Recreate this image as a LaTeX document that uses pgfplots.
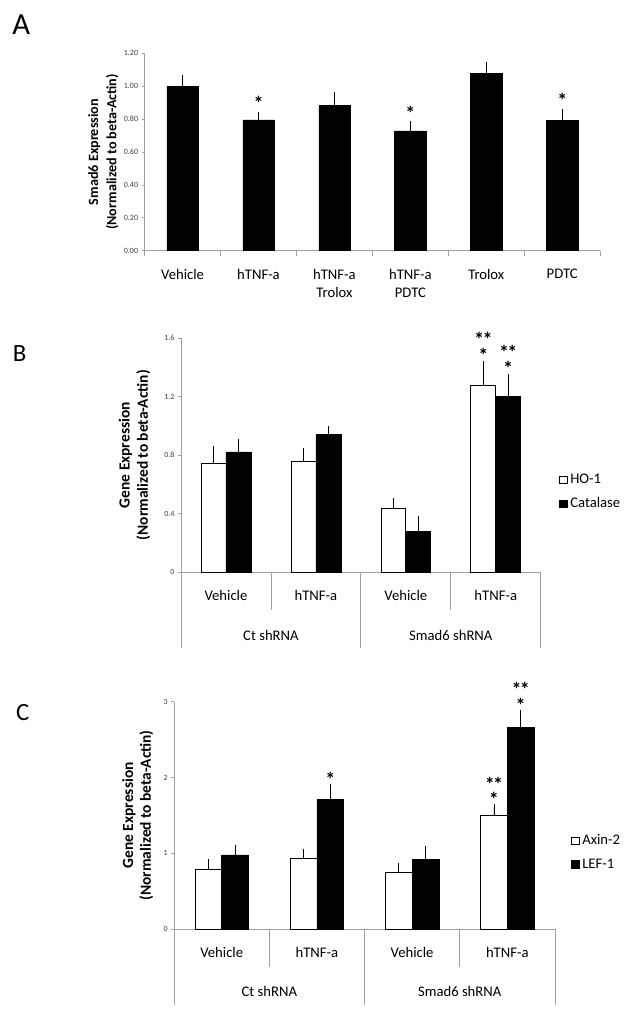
\documentclass[border=0pt]{standalone}
\usepackage{fontspec}
\setmainfont{Carlito}
\newfontfamily\lblfont{Carlito}
\usepackage{pgfplots}
\usepackage{pgfplotstable}
\pgfplotsset{compat=1.18}
\definecolor{axgray}{RGB}{160,160,160}

\pgfplotstableread{
x y e
0 1.000 0.050
1 0.795 0.030
2 0.884 0.060
3 0.728 0.042
4 1.078 0.050
5 0.790 0.056
}\dataA
\pgfplotstableread{
x y e
0 0.744 0.100
1 0.756 0.070
2 0.435 0.050
3 1.274 0.146
}\dataBho
\pgfplotstableread{
x y e
0 0.822 0.066
1 0.942 0.040
2 0.282 0.085
3 1.200 0.131
}\dataBcat
\pgfplotstableread{
x y e
0 0.790 0.100
1 0.933 0.090
2 0.752 0.075
3 1.496 0.110
}\dataCaxin
\pgfplotstableread{
x y e
0 0.977 0.096
1 1.707 0.163
2 0.920 0.136
3 2.662 0.193
}\dataClef

\tikzset{mystar/.style={font=\bfseries\fontsize{15}{10}\selectfont, anchor=base, inner sep=0pt, align=center}}
\newcommand{\dstar}{*\kern-1.2pt*}

\pgfplotsset{
  panel/.style={
    scale only axis,
    axis x line*=bottom,
    axis y line*=left,
    axis line style={axgray, line width=0.6pt, -},
    ytick style={axgray, line width=0.5pt},
    xtick style={draw=none},
    tick align=outside,
    major tick length=2.2pt,
    /pgf/number format/assume math mode=true,
    yticklabel style={font=\fontsize{6}{6}\selectfont, text=black!75, inner sep=1pt, xshift=-1.5pt},
    xticklabel style={font=\fontsize{11}{13.5}\selectfont, align=center, anchor=north, yshift=-8pt},
    ylabel style={font=\lblfont\bfseries\fontsize{10.6}{13.7}\selectfont, align=center, anchor=center},
    clip=false,
    ybar=0pt,
    error bars/y dir=plus,
    error bars/y explicit,
    error bars/error mark options={mark size=2.2pt, line width=0.5pt, black},
    error bars/error bar style={line width=0.5pt, black},
    legend image code/.code={\draw[##1, line width=0.5pt] (0pt,-2.9pt) rectangle (5.8pt,2.9pt);},
    legend cell align=left,
    legend style={draw=none, fill=none, font=\fontsize{11}{12}\selectfont, inner sep=0pt, row sep=5pt, anchor=west},
  },
}

\begin{document}
\begin{tikzpicture}
\path[use as bounding box] (0,0) rectangle (479.25pt,-762.75pt);

% Panel letters
\node[font=\fontsize{23}{23}\selectfont, anchor=center] at (16pt,-18.75pt) {A};
\node[font=\fontsize{18.6}{19}\selectfont, anchor=center] at (14.8pt,-265.5pt) {B};
\node[font=\fontsize{18.6}{19}\selectfont, anchor=center] at (17.1pt,-534.6pt) {C};

% ---------------- Panel A ----------------
\begin{axis}[panel,
  at={(108.45pt,-188.03pt)}, anchor=south west,
  width=341.7pt, height=148.05pt,
  xmin=-0.5, xmax=5.5, ymin=0, ymax=1.2,
  ytick={0,0.2,0.4,0.6,0.8,1.0,1.2},
  yticklabel style={/pgf/number format/fixed, /pgf/number format/fixed zerofill, /pgf/number format/precision=2},
  xtick={0,1,2,3,4,5},
  xticklabels={Vehicle, hTNF-a, {hTNF-a\\Trolox}, {hTNF-a\\PDTC}, Trolox, PDTC},
  bar width=0.411,
  ylabel={Smad6 Expression\\(Normalized to beta-Actin)},
  ylabel style={at={(axis description cs:-0.0907,0.5)}},
]
\addplot[fill=black, draw=black] table[x=x, y=y, y error=e] {\dataA};
\draw[axgray, line width=0.5pt] (axis cs:-0.5,0) -- ++(0pt,-4pt);
\draw[axgray, line width=0.5pt] (axis cs:0.5,0) -- ++(0pt,-4pt);
\draw[axgray, line width=0.5pt] (axis cs:1.5,0) -- ++(0pt,-4pt);
\draw[axgray, line width=0.5pt] (axis cs:2.5,0) -- ++(0pt,-4pt);
\draw[axgray, line width=0.5pt] (axis cs:3.5,0) -- ++(0pt,-4pt);
\draw[axgray, line width=0.5pt] (axis cs:4.5,0) -- ++(0pt,-4pt);
\draw[axgray, line width=0.5pt] (axis cs:5.5,0) -- ++(0pt,-4pt);
\node[mystar, yshift=3pt] at (axis cs:1,0.825) {*};
\node[mystar, yshift=3pt] at (axis cs:3,0.770) {*};
\node[mystar, yshift=3pt] at (axis cs:5,0.846) {*};
\end{axis}

% ---------------- Panel B ----------------
\begin{axis}[panel,
  at={(135.75pt,-429.23pt)}, anchor=south west,
  width=269.8pt, height=175.73pt,
  xmin=-0.5, xmax=3.5, ymin=0, ymax=1.6,
  ytick={0,0.4,0.8,1.2,1.6},
  xtick={0,1,2,3},
  xticklabels={Vehicle, hTNF-a, Vehicle, hTNF-a},
  bar width=0.277,
  ylabel={Gene Expression\\(Normalized to beta-Actin)},
  ylabel style={at={(axis description cs:-0.1293,0.5)}, font=\lblfont\bfseries\fontsize{11.6}{13.7}\selectfont},
  legend style={at={(1,0.343)}, xshift=13.7pt},
]
\addplot[fill=white, draw=black, line width=0.6pt] table[x=x, y=y, y error=e] {\dataBho};
\addplot[fill=black, draw=black] table[x=x, y=y, y error=e] {\dataBcat};
\legend{HO-1, Catalase}
\draw[axgray, line width=0.6pt] (axis cs:-0.5,0) -- ++(0pt,-57pt);
\draw[axgray, line width=0.6pt] (axis cs:0.5,0) -- ++(0pt,-28.3pt);
\draw[axgray, line width=0.6pt] (axis cs:1.5,0) -- ++(0pt,-57pt);
\draw[axgray, line width=0.6pt] (axis cs:2.5,0) -- ++(0pt,-28.3pt);
\draw[axgray, line width=0.6pt] (axis cs:3.5,0) -- ++(0pt,-57pt);
\node[font=\fontsize{11}{13}\selectfont] at ([yshift=-47pt]axis cs:0.5,0) {Ct shRNA};
\node[font=\fontsize{11}{13}\selectfont] at ([yshift=-47pt]axis cs:2.5,0) {Smad6 shRNA};
\node[mystar, yshift=1.5pt] at (axis cs:2.8615,1.420) {\dstar\\*};
\node[mystar, yshift=1.5pt] at (axis cs:3.1385,1.331) {\dstar\\*};
\end{axis}

% ---------------- Panel C ----------------
\begin{axis}[panel,
  at={(130.6pt,-696.75pt)}, anchor=south west,
  width=285.6pt, height=170.48pt,
  xmin=-0.5, xmax=3.5, ymin=0, ymax=3,
  ytick={0,1,2,3},
  xtick={0,1,2,3},
  xticklabels={Vehicle, hTNF-a, Vehicle, hTNF-a},
  bar width=0.281,
  ylabel={Gene Expression\\(Normalized to beta-Actin)},
  ylabel style={at={(axis description cs:-0.0957,0.5)}, font=\lblfont\bfseries\fontsize{11.6}{13.4}\selectfont},
  legend style={at={(1,0.3366)}, xshift=12pt},
]
\addplot[fill=white, draw=black, line width=0.6pt] table[x=x, y=y, y error=e] {\dataCaxin};
\addplot[fill=black, draw=black] table[x=x, y=y, y error=e] {\dataClef};
\legend{Axin-2, LEF-1}
\draw[axgray, line width=0.6pt] (axis cs:-0.5,0) -- ++(0pt,-57pt);
\draw[axgray, line width=0.6pt] (axis cs:0.5,0) -- ++(0pt,-28.3pt);
\draw[axgray, line width=0.6pt] (axis cs:1.5,0) -- ++(0pt,-57pt);
\draw[axgray, line width=0.6pt] (axis cs:2.5,0) -- ++(0pt,-28.3pt);
\draw[axgray, line width=0.6pt] (axis cs:3.5,0) -- ++(0pt,-57pt);
\node[font=\fontsize{11}{13}\selectfont] at ([yshift=-47pt]axis cs:0.5,0) {Ct shRNA};
\node[font=\fontsize{11}{13}\selectfont] at ([yshift=-47pt]axis cs:2.5,0) {Smad6 shRNA};
\node[mystar, yshift=0.5pt] at (axis cs:1.1405,1.870) {*};
\node[mystar, yshift=0.5pt] at (axis cs:2.8595,1.606) {\dstar\\*};
\node[mystar, yshift=0.5pt] at (axis cs:3.1405,2.855) {\dstar\\*};
\end{axis}
\end{tikzpicture}
\end{document}
